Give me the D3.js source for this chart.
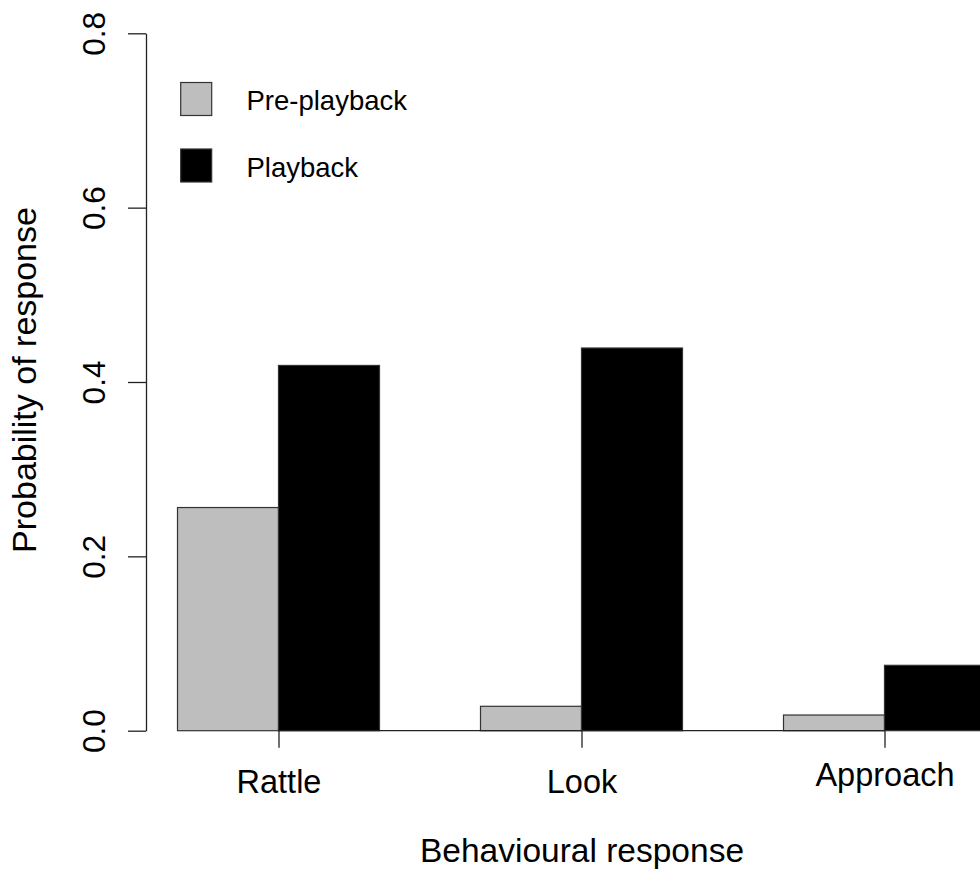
<!DOCTYPE html>
<html>
<head>
<meta charset="utf-8">
<script src="https://cdn.jsdelivr.net/npm/d3@7/dist/d3.min.js"></script>
<style>
  html, body { margin: 0; padding: 0; background: #fff; }
  svg { display: block; }
  text { font-family: "Liberation Sans", Arial, sans-serif; fill: #000; }
</style>
</head>
<body>
<script>
// ---- data ----
const categories = ["Rattle", "Look", "Approach"];
const seriesNames = ["Pre-playback", "Playback"];
const prePlayback = [0.256, 0.028, 0.018];
const playback = [0.419, 0.439, 0.075];
const yTicks = [0.0, 0.2, 0.4, 0.6, 0.8];
const xTitle = "Behavioural response";
const yTitle = "Probability of response";

// ---- styles ----
const fills = ["#bebebe", "#000000"];
const W = 980, H = 869;

const svg = d3.select("body").append("svg").attr("width", W).attr("height", H);

// barplot (beside) coordinates: each group has 2 unit-wide bars, 1 unit gap
const x = d3.scaleLinear().domain([1, 9]).range([177.5, 985.5]);
const y = d3.scaleLinear().domain([0, 0.8]).range([730.7, 33.3]);

const series = [prePlayback, playback];
const bars = [];
categories.forEach((c, g) => {
  series.forEach((s, i) => {
    bars.push({cat: c, g, i, v: s[g], left: 1 + 3 * g + i});
  });
});

svg.append("g").selectAll("rect").data(bars).join("rect")
  .attr("x", d => x(d.left))
  .attr("y", d => y(d.v))
  .attr("width", d => x(d.left + 1) - x(d.left))
  .attr("height", d => y(0) - y(d.v))
  .attr("fill", d => fills[d.i])
  .attr("stroke", "#333")
  .attr("stroke-width", 1.2);

// y axis
const yAxis = svg.append("g").attr("transform", "translate(146,0)")
  .call(d3.axisLeft(y).tickValues(yTicks).tickSize(18).tickSizeOuter(0).tickFormat(d3.format(".1f")));
yAxis.select(".domain").attr("stroke", "#222").attr("stroke-width", 1.3);
yAxis.selectAll(".tick line").attr("stroke", "#222").attr("stroke-width", 1.3);
yAxis.selectAll(".tick text")
  .attr("transform", "rotate(-90)")
  .attr("x", 0).attr("y", -41).attr("dy", 0)
  .attr("text-anchor", "middle")
  .style("font-size", "31.5px")
  .style("font-family", "'Liberation Sans', Arial, sans-serif")
  .attr("fill", "#000");

// x axis (ticks at group centres)
const centers = categories.map((c, g) => 2 + 3 * g);
const xAxis = svg.append("g").attr("transform", `translate(0,${y(0)})`)
  .call(d3.axisBottom(x).tickValues(centers).tickSize(17).tickSizeOuter(0)
    .tickFormat((d, k) => categories[k]));
xAxis.select(".domain").remove();
xAxis.append("line")
  .attr("x1", x(centers[0])).attr("x2", x(centers[centers.length - 1]))
  .attr("y1", 0).attr("y2", 0)
  .attr("stroke", "#222").attr("stroke-width", 1.3);
xAxis.selectAll(".tick line").attr("stroke", "#222").attr("stroke-width", 1.3);
xAxis.selectAll(".tick text")
  .attr("y", (d, k) => categories[k] === "Approach" ? 55 : 62)
  .attr("dy", 0)
  .style("font-size", "32.5px")
  .style("font-family", "'Liberation Sans', Arial, sans-serif")
  .attr("fill", "#000");

// axis titles
svg.append("text")
  .attr("x", 582).attr("y", 862)
  .attr("text-anchor", "middle")
  .style("font-size", "33.5px")
  .text(xTitle);

svg.append("text")
  .attr("transform", `translate(36,380) rotate(-90)`)
  .attr("text-anchor", "middle")
  .style("font-size", "34px")
  .text(yTitle);

// legend
const legend = svg.append("g");
const legY = [99, 165.5];
seriesNames.forEach((name, i) => {
  legend.append("rect")
    .attr("x", 180.7).attr("y", legY[i] - 16.5)
    .attr("width", 31).attr("height", 33)
    .attr("fill", fills[i]).attr("stroke", "#333").attr("stroke-width", 1.2);
  legend.append("text")
    .attr("x", 246.5).attr("y", legY[i] + 11)
    .style("font-size", "27.5px")
    .text(name);
});
</script>
</body>
</html>
